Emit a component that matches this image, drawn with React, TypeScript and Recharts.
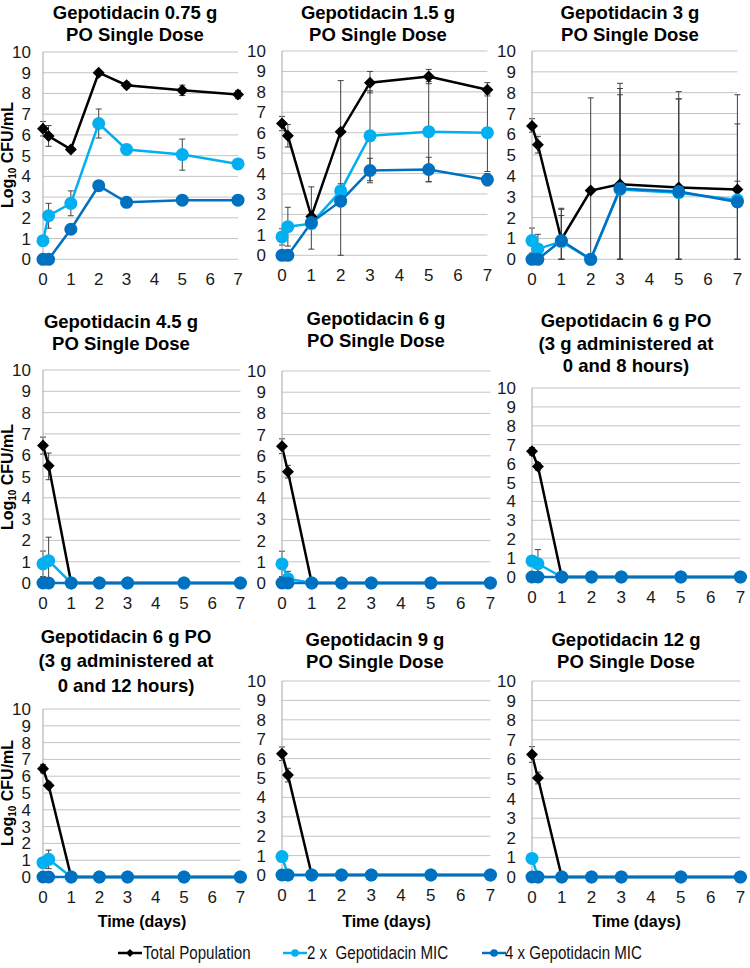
import { LineChart, Line, XAxis, YAxis, CartesianGrid, ErrorBar } from "recharts";

// sampling times (days)
const days = [0, 0.2, 1, 2, 3, 5, 7];
const xTicks = [0, 1, 2, 3, 4, 5, 6, 7];
const yTicks = [0, 1, 2, 3, 4, 5, 6, 7, 8, 9, 10];

const titles = [
  ["Gepotidacin 0.75 g", "PO Single Dose"],
  ["Gepotidacin 1.5 g", "PO Single Dose"],
  ["Gepotidacin 3 g", "PO Single Dose"],
  ["Gepotidacin 4.5 g", "PO Single Dose"],
  ["Gepotidacin 6 g", "PO Single Dose"],
  ["Gepotidacin 6 g PO", "(3 g administered at", "0 and 8 hours)"],
  ["Gepotidacin 6 g PO", "(3 g administered at", "0 and 12 hours)"],
  ["Gepotidacin 9 g", "PO Single Dose"],
  ["Gepotidacin 12 g", "PO Single Dose"],
];

const legendLabels = ["Total Population", "2 x  Gepotidacin MIC", "4 x Gepotidacin MIC"];

// log10 CFU/mL, one row per panel
const totalPop = [
  [6.3, 5.95, 5.3, 9.0, 8.4, 8.15, 7.95],
  [6.45, 5.85, 1.9, 6.05, 8.45, 8.75, 8.1],
  [6.4, 5.5, 0.95, 3.3, 3.6, 3.45, 3.35],
  [6.45, 5.5, 0, 0, 0, 0, 0],
  [6.45, 5.25, 0, 0, 0, 0, 0],
  [6.65, 5.85, 0, 0, 0, 0, 0],
  [6.45, 5.45, 0, 0, 0, 0, 0],
  [6.25, 5.15, 0, 0, 0, 0, 0],
  [6.25, 5.05, 0, 0, 0, 0, 0],
];

const mic2x = [
  [0.9, 2.1, 2.7, 6.55, 5.3, 5.05, 4.6],
  [0.9, 1.4, 1.55, 3.15, 5.85, 6.05, 6.0],
  [0.9, 0.5, 0.85, 0, 3.35, 3.2, 2.85],
  [0.9, 1.05, 0, 0, 0, 0, 0],
  [0.9, 0.2, 0, 0, 0, 0, 0],
  [0.85, 0.7, 0, 0, 0, 0, 0],
  [0.85, 1.05, 0, 0, 0, 0, 0],
  [0.95, 0, 0, 0, 0, 0, 0],
  [0.95, 0, 0, 0, 0, 0, 0],
];

const mic4x = [
  [0, 0, 1.45, 3.55, 2.75, 2.85, 2.85],
  [0, 0, 1.6, 2.65, 4.15, 4.2, 3.7],
  [0, 0, 0.9, 0, 3.4, 3.25, 2.75],
  [0, 0, 0, 0, 0, 0, 0],
  [0, 0, 0, 0, 0, 0, 0],
  [0, 0, 0, 0, 0, 0, 0],
  [0, 0, 0, 0, 0, 0, 0],
  [0, 0, 0, 0, 0, 0, 0],
  [0, 0, 0, 0, 0, 0, 0],
];

// error bars as [minus, plus]; null = none shown
type Err = [number, number] | null;
const totalErr: Err[][] = [
  [[0.35, 0.35], [0.5, 0.5], null, null, [0.15, 0.15], [0.25, 0.25], [0.2, 0.2]],
  [[0.35, 0.35], [0.55, 0.55], [1.6, 1.45], [6.05, 2.5], [0.5, 0.55], [0.35, 0.35], [0.3, 0.35]],
  [[0.3, 0.35], [0.4, 0.4], [0.95, 1.5], [3.3, 4.45], [3.6, 4.85], [3.45, 4.6], [3.35, 4.55]],
  [[0.4, 0.4], [0.65, 0.6], null, null, null, null, null],
  [[0.35, 0.35], [0.3, 0.3], null, null, null, null, null],
  [[0.2, 0.2], [0.2, 0.2], null, null, null, null, null],
  [[0.25, 0.25], [0.2, 0.2], null, null, null, null, null],
  [[0.35, 0.35], [0.35, 0.35], null, null, null, null, null],
  [[0.4, 0.4], [0.3, 0.3], null, null, null, null, null],
];

const mic2xErr: Err[][] = [
  [null, [0.6, 0.6], [0.6, 0.6], [0.7, 0.7], null, [0.75, 0.75], null],
  [[0.4, 0.4], [0.95, 0.95], null, [0.35, 0.35], [2.2, 2.2], [2.45, 2.45], [1.9, 1.9]],
  [[0.6, 0.6], [0.5, 0.7], [0.85, 1.25], null, [3.35, 4.85], [3.2, 4.5], [2.85, 3.65]],
  [[0.6, 0.6], [1.05, 1.1], null, null, null, null, null],
  [[0.6, 0.6], [0.2, 0.35], null, null, null, null, null],
  [null, [0.7, 0.75], null, null, null, null, null],
  [[0.3, 0.3], [0.55, 0.55], null, null, null, null, null],
  [null, null, null, null, null, null, null],
  [null, null, null, null, null, null, null],
];

const mic4xErr: Err[][] = [
  [null, null, null, null, null, null, null],
  [null, null, null, null, [0.6, 0.6], [0.6, 0.6], [0.3, 0.3]],
  [null, null, [0.9, 1.5], null, [3.4, 4.5], [3.25, 4.45], [2.75, 1.0]],
  [null, null, null, null, null, null, null],
  [null, null, null, null, null, null, null],
  [null, null, null, null, null, null, null],
  [null, null, null, null, null, null, null],
  [null, null, null, null, null, null, null],
  [null, null, null, null, null, null, null],
];

// layout: plot box [left, top(=10), right(=7), bottom(=0)] in page px
const plotBoxes = [
  [42.7, 51.7, 237.7, 259],
  [282.3, 50.7, 487.7, 255],
  [532.3, 50.7, 737.7, 259],
  [43.3, 370, 240.7, 583],
  [282.3, 371, 490.7, 583],
  [532.3, 388, 740.7, 577],
  [43.3, 709, 240.7, 877],
  [282.3, 681, 490.7, 875],
  [532.3, 681, 740.7, 877],
];
// title centre x, first line centre y, line spacing
const titlePos = [
  [135, 13.3, 21.7],
  [378, 13.3, 21.7],
  [630, 13.3, 21.7],
  [121, 322, 21.7],
  [376, 319, 21.7],
  [626, 321.7, 22.5],
  [126, 637, 24.7],
  [375, 640, 21.7],
  [626, 640, 21.7],
];
// legend: icon left x, text left x
const legendPos = [
  [118, 143],
  [283, 307],
  [482, 505],
];

const BLACK = "#000000";
const LIGHT = "#00b0f0";
const DARK = "#0070c0";
const FONT = '"Liberation Sans", Arial, sans-serif';

const DiamondDot = (props: any) => {
  const { cx, cy, index } = props;
  if (cx == null || cy == null) return <g key={`dd-${index}`} />;
  const s = 6;
  return (
    <path
      key={`dd-${index}`}
      d={`M${cx},${cy - s}L${cx + s},${cy}L${cx},${cy + s}L${cx - s},${cy}Z`}
      fill={BLACK}
    />
  );
};

function Panel({ idx }: { idx: number }) {
  const [pl, pt, pr, pb] = plotBoxes[idx];
  const col = idx % 3;
  const yw = 40;
  const mt = 10;
  const mr = 8;
  const xh = 30;
  const width = pr - pl + yw + mr;
  const height = pb - pt + mt + xh;
  const data = days.map((d, i) => ({
    day: d,
    total: totalPop[idx][i],
    mic2: mic2x[idx][i],
    mic4: mic4x[idx][i],
    totalErr: totalErr[idx][i],
    mic2Err: mic2xErr[idx][i],
    mic4Err: mic4xErr[idx][i],
  }));
  const tickStyle = { fontSize: 17, fill: "#1a1a1a", fontFamily: FONT };
  return (
    <div style={{ position: "absolute", left: pl - yw, top: pt - mt }}>
      <LineChart width={width} height={height} data={data} margin={{ top: mt, right: mr, bottom: 0, left: 0 }}>
        <CartesianGrid vertical={false} stroke="#c4c4c4" strokeWidth={1} />
        <XAxis
          dataKey="day"
          type="number"
          domain={[0, 7]}
          ticks={xTicks}
          interval={0}
          axisLine={false}
          tickLine={false}
          tickMargin={8}
          height={xh}
          tick={tickStyle}
        />
        <YAxis
          type="number"
          domain={[0, 10]}
          ticks={yTicks}
          interval={0}
          width={yw}
          axisLine={{ stroke: "#a6a6a6" }}
          tickLine={false}
          tickMargin={col === 0 ? 6 : 10}
          tick={tickStyle}
        />
        <Line
          dataKey="total"
          stroke={BLACK}
          strokeWidth={2.5}
          dot={DiamondDot}
          activeDot={false}
          isAnimationActive={false}
        >
          <ErrorBar dataKey="totalErr" width={3} stroke="#404040" strokeWidth={1} direction="y" />
        </Line>
        <Line
          dataKey="mic2"
          stroke={LIGHT}
          strokeWidth={2.5}
          dot={{ r: 6.5, fill: LIGHT, stroke: LIGHT, strokeWidth: 0 }}
          activeDot={false}
          isAnimationActive={false}
        >
          <ErrorBar dataKey="mic2Err" width={3} stroke="#404040" strokeWidth={1} direction="y" />
        </Line>
        <Line
          dataKey="mic4"
          stroke={DARK}
          strokeWidth={2.5}
          dot={{ r: 6.5, fill: DARK, stroke: DARK, strokeWidth: 0 }}
          activeDot={false}
          isAnimationActive={false}
        >
          <ErrorBar dataKey="mic4Err" width={3} stroke="#404040" strokeWidth={1} direction="y" />
        </Line>
      </LineChart>
    </div>
  );
}

function LegendIcon({ color, diamond }: { color: string; diamond: boolean }) {
  return (
    <svg width={24} height={12} style={{ display: "block" }}>
      <line x1={0} y1={6} x2={24} y2={6} stroke={color} strokeWidth={2.5} />
      {diamond ? <path d="M12,2L16,6L12,10L8,6Z" fill={color} /> : <circle cx={12} cy={6} r={3.8} fill={color} />}
    </svg>
  );
}

export default function App() {
  const legendColors = [BLACK, LIGHT, DARK];
  return (
    <div
      style={{
        position: "absolute",
        left: 0,
        top: 0,
        width: 750,
        height: 968,
        overflow: "hidden",
        background: "#fff",
        fontFamily: FONT,
        color: "#000",
      }}
    >
      {titles.map((lines, i) => {
        const [cx, y1, lh] = titlePos[i];
        return (
          <div
            key={`t-${i}`}
            style={{
              position: "absolute",
              left: cx - 125,
              width: 250,
              top: y1 - lh / 2,
              textAlign: "center",
              fontWeight: 700,
              fontSize: 18.5,
              lineHeight: `${lh}px`,
              whiteSpace: "nowrap",
            }}
          >
            {lines.map((l, j) => (
              <div key={j}>{l}</div>
            ))}
          </div>
        );
      })}

      {plotBoxes.map((_, i) => (
        <Panel key={`p-${i}`} idx={i} />
      ))}

      {[0, 3, 6].map((i) => {
        const [, pt, , pb] = plotBoxes[i];
        return (
          <div
            key={`yl-${i}`}
            style={{
              position: "absolute",
              left: 9,
              top: (pt + pb) / 2,
              transform: "translate(-50%, -50%) rotate(-90deg)",
              whiteSpace: "nowrap",
              fontWeight: 700,
              fontSize: 16,
              lineHeight: "16px",
            }}
          >
            Log<sub style={{ fontSize: 10, verticalAlign: "-3px", lineHeight: "10px" }}>10</sub> CFU/mL
          </div>
        );
      })}

      {[6, 7, 8].map((i) => {
        const [pl, , pr] = plotBoxes[i];
        return (
          <div
            key={`xl-${i}`}
            style={{
              position: "absolute",
              left: (pl + pr) / 2 - 80,
              width: 160,
              top: 912,
              textAlign: "center",
              fontWeight: 700,
              fontSize: 16,
              lineHeight: "20px",
            }}
          >
            Time (days)
          </div>
        );
      })}

      {legendLabels.map((lab, i) => {
        const [ix, tx] = legendPos[i];
        return (
          <div key={lab}>
            <div style={{ position: "absolute", left: ix, top: 947 }}>
              <LegendIcon color={legendColors[i]} diamond={i === 0} />
            </div>
            <div
              style={{
                position: "absolute",
                left: tx,
                top: 942,
                fontSize: 18,
                lineHeight: "22px",
                color: "#111",
                whiteSpace: "pre",
                transform: "scaleX(0.84)",
                transformOrigin: "left center",
              }}
            >
              {lab}
            </div>
          </div>
        );
      })}
    </div>
  );
}
